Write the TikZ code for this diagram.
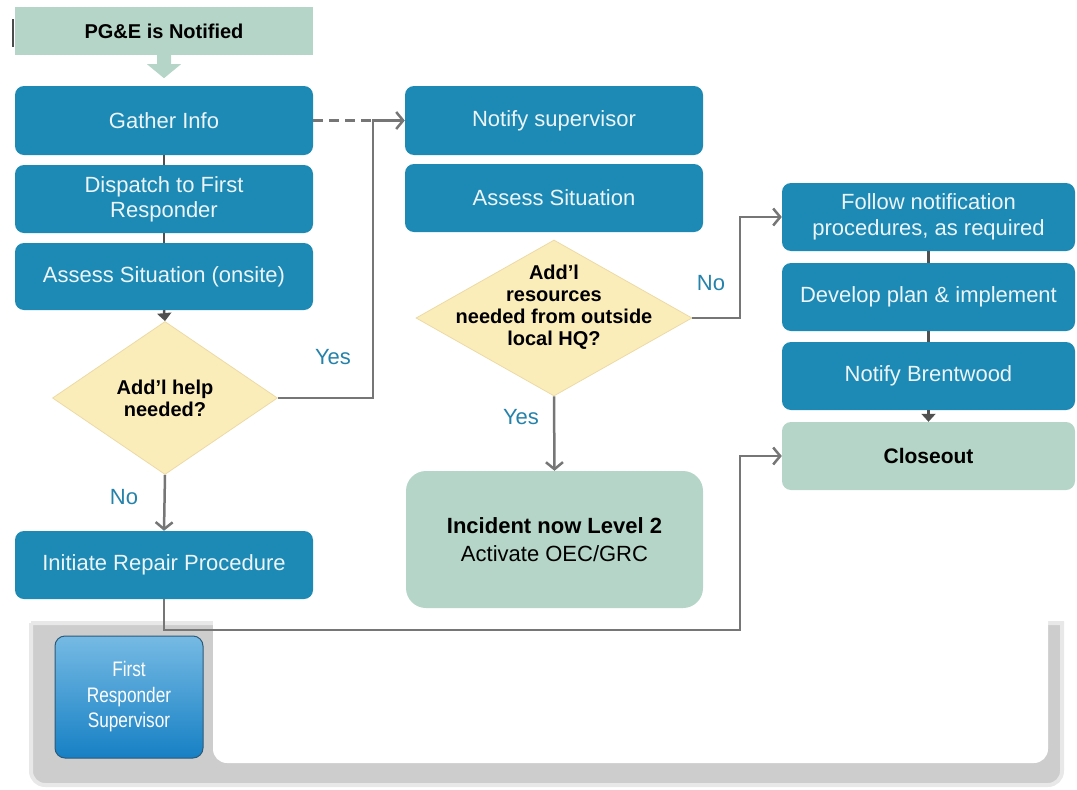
\documentclass[tikz,border=0pt]{standalone}
\usepackage{fontspec}
\setmainfont{Liberation Sans}
\newfontfamily\narrowfont[FakeStretch=0.82]{Liberation Sans}
\usetikzlibrary{shapes.geometric,arrows.meta}
\definecolor{boxblue}{RGB}{28,138,181}
\definecolor{boxtext}{RGB}{236,244,248}
\definecolor{teallight}{RGB}{180,213,199}
\definecolor{diafill}{RGB}{251,237,186}
\definecolor{diaedge}{RGB}{236,218,165}
\definecolor{lblc}{RGB}{37,130,170}
\definecolor{connc}{RGB}{118,118,118}
\definecolor{darkc}{RGB}{80,80,80}
\definecolor{framegray}{RGB}{205,205,205}
\definecolor{frameedge}{RGB}{232,232,232}
\definecolor{frstop}{RGB}{118,186,228}
\definecolor{frsbot}{RGB}{22,128,196}
\begin{document}
\begin{tikzpicture}[x=1pt,y=-1pt,
  bluebox/.style={rectangle, rounded corners=9pt, fill=boxblue, text=boxtext,
    minimum width=298pt, minimum height=68pt, inner sep=0pt, align=center,
    font=\fontsize{22}{25}\selectfont},
  greenbox/.style={rectangle, rounded corners=9pt, fill=teallight, text=black,
    minimum width=298pt, minimum height=68pt, inner sep=0pt, align=center,
    font=\bfseries\fontsize{21}{25}\selectfont},
  dia/.style={diamond, fill=diafill, draw=diaedge, line width=0.8pt, inner sep=0pt,
    align=center, font=\bfseries\fontsize{20}{22}\selectfont},
  lbl/.style={text=lblc, font=\fontsize{22}{25}\selectfont, inner sep=0pt},
  conn/.style={draw=connc, line width=2.5pt},
  arr/.style={-{Straight Barb[length=7pt,width=17pt]}},
  link/.style={draw=darkc, line width=2.5pt},
  tri/.style={-{Triangle[length=8pt,width=14pt]}}
]
\useasboundingbox (0,0) rectangle (1077,790);
% frame at the bottom
\draw[fill=framegray, draw=frameedge, line width=4pt]
  (31,623) -- (1062,623) [rounded corners=14pt] -- (1062,785) -- (31,785) -- (31,623);
\fill[white, rounded corners=14pt] (213,600) rectangle (1048,763);
% dark bar left of the banner
\draw[line width=2.5pt, black!70] (13,19) -- (13,47);

% nodes
\node[rectangle, fill=teallight, minimum width=298pt, minimum height=48pt, inner sep=0pt,
  font=\bfseries\fontsize{20}{24}\selectfont] (banner) at (164,31) {PG\&E is Notified};
\node[bluebox, minimum height=69pt] (g) at (164,120.5) {Gather Info};
\node[bluebox] (dsp) at (164,199) {Dispatch to First\\Responder};
\node[bluebox, minimum height=67pt] (as1) at (164,276.5) {Assess Situation (onsite)};
\node[dia, minimum width=225pt, minimum height=153pt] (d1) at (165,398) {Add’l help\\needed?};
\node[bluebox] (ir) at (164,565) {Initiate Repair Procedure};

\node[bluebox, minimum height=69pt] (ns) at (554,120.5) {Notify supervisor};
\node[bluebox] (as2) at (554,198) {Assess Situation};
\node[dia, minimum width=276pt, minimum height=156pt] (d2) at (554,318)
  {\raisebox{10pt}{\smash{\makebox[0pt]{\begin{tabular}{@{}c@{}}Add’l\\resources\\needed from outside\\local HQ?\end{tabular}}}}};
\node[greenbox, rounded corners=20pt, minimum width=297pt, minimum height=137pt,
  font=\fontsize{22}{28}\selectfont] (inc) at (554.5,539.5)
  {\textbf{Incident now Level 2}\\Activate OEC/GRC};

\node[bluebox, minimum width=293pt, font=\fontsize{22}{26}\selectfont] (fn) at (928.5,217) {Follow notification\\procedures, as required};
\node[bluebox, minimum width=293pt] (dp) at (928.5,297) {Develop plan \& implement};
\node[bluebox, minimum width=293pt] (nb) at (928.5,376) {Notify Brentwood};
\node[greenbox, minimum width=293pt] (co) at (928.5,456) {Closeout};

\node[rectangle, rounded corners=10pt, top color=frstop, bottom color=frsbot,
  draw={rgb,255:red,45;green,90;blue,120}, line width=1pt,
  minimum width=148pt, minimum height=122pt, inner sep=0pt, align=center, text=white,
  font=\narrowfont\fontsize{21}{25.5}\selectfont] (frs) at (129,697)
  {First\\Responder\\Supervisor};

% labels
\node[lbl] (yes1) at (333,357) {Yes};
\node[lbl] (no1) at (124,497) {No};
\node[lbl] (no2) at (711,283) {No};
\node[lbl] (yes2) at (521,417) {Yes};

% junction points
\coordinate (j1) at (373,120.5);
\coordinate (j2) at (740,630);
\coordinate (j3) at (740,318);

% banner arrow
\fill[teallight, shift={(banner.south)}] (-7,0) -- (7,0) -- (7,9) -- (17,9) -- (0,23)
  -- (-17,9) -- (-7,9) -- cycle;

% links in stacks
\draw[link] (g.south) -- (dsp.north);
\draw[link] (dsp.south) -- (as1.north);
\draw[link, tri] (as1.south) -- (d1.north);
\draw[link] (fn.south) -- (dp.north);
\draw[link] (dp.south) -- (nb.north);
\draw[link, tri] (nb.south) -- (co.north);

% connectors
\draw[conn, dash pattern=on 10pt off 6pt] (g.east) -- (j1);
\draw[conn, arr] (d1.east) -| (j1) -- (ns.west);
\draw[conn, arr] (d1.south) -- (ir.north);
\draw[conn, arr] (ir.south) |- (j2) |- (co.west);
\draw[conn, arr] (d2.east) -- (j3) |- (fn.west);
\draw[conn, arr] (d2.south) -- (inc.north);
\end{tikzpicture}
\end{document}
